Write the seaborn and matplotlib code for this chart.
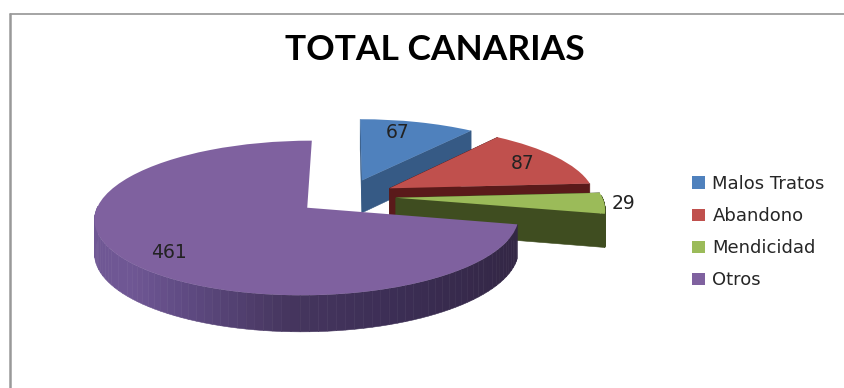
import numpy as np
import matplotlib
matplotlib.use("Agg")
import matplotlib.pyplot as plt
from matplotlib.transforms import Transform
from matplotlib.lines import Line2D
from matplotlib.patches import Patch
from matplotlib.colors import to_rgb
import seaborn as sns

categories = ["Malos Tratos", "Abandono", "Mendicidad", "Otros"]
values = [67, 87, 29, 461]
title = "TOTAL CANARIAS"

top_colors = ["#4f81bd", "#c0504d", "#9bbb59", "#7f619f"]
edge_walls = ["#365a85", "#5a1a1a", "#3f4d20", None]
arc_walls = ["#365a85", "#5a1a1a", "#3f4d20", "#3a2c50"]
label_radii = [0.78, 0.79, 1.09, 0.81]
label_fracs = [0.4, 0.5, 0.5, 0.485]

W, H = 845, 388
CX, CY, RX, RY, K, DEPTH, EXPL = 346.5, 196.5, 206, 73, 0.13, 33, 0.24

sns.set_theme(style="white")
plt.rcParams["font.family"] = ["DejaVu Sans"]


class Perspective(Transform):
    input_dims = output_dims = 2
    is_separable = False
    has_inverse = False

    def transform_non_affine(self, xy):
        xy = np.asarray(xy, float)
        s = 1.0 / (1.0 + K * xy[:, 1])
        return np.column_stack([xy[:, 0] * s, xy[:, 1] * s])


persp = Perspective()
palette = sns.color_palette(top_colors)

fig = plt.figure(figsize=(W / 100, H / 100), dpi=100)
ax = fig.add_axes([0, 0, 1, 1])
wedges, _ = ax.pie(values, colors=palette, startangle=90, counterclock=False,
                   explode=[EXPL] * len(values), radius=1.0,
                   wedgeprops={"linewidth": 0, "edgecolor": "none"})
ax.set_aspect("auto")
ax.set_xlim(-CX / RX, (W - CX) / RX)
ax.set_ylim((CY - H) / RY, CY / RY)
base = persp + ax.transData


def drop(v):
    return DEPTH * (1 - 0.08 * v) / RY


def purple_shade(x_norm):
    stops = np.array([0.0, 0.12, 0.35, 0.6, 1.0])
    cols = np.array([to_rgb(c) for c in ["#6f5794", "#5f4a82", "#46365f", "#3c2e55", "#30243f"]])
    return [float(np.interp(x_norm, stops, cols[:, i])) for i in range(3)]


def wall(a, b, col, z):
    ax.fill([a[0], b[0], b[0], a[0]],
            [a[1], b[1], b[1] - drop(b[1]), a[1] - drop(a[1])],
            color=col, lw=0.4, zorder=z)


for i, w in enumerate(wedges):
    z = 2 * i + 1
    c = np.array(w.center)
    angs = np.radians(np.linspace(w.theta1, w.theta2, 120))
    arc = c + w.r * np.column_stack([np.cos(angs), np.sin(angs)])
    arc = persp.transform_non_affine(arc)
    apex = persp.transform_non_affine(c[None, :])[0]
    if edge_walls[i] is not None:
        wall(apex, arc[0], edge_walls[i], z)
        wall(apex, arc[-1], edge_walls[i], z)
    for j in range(len(arc) - 1):
        if np.sin(angs[j]) > 0.03:  # the back of the rim is hidden
            continue
        col = arc_walls[i]
        if i == 3:
            col = purple_shade((arc[j][0] + 1.05) / 2.1)
        wall(arc[j], arc[j + 1], col, z)
    w.set_transform(base)
    w.set_zorder(z + 1)
    # theta runs counter-clockwise; the pie is clockwise, so the sweep starts at theta2
    ang = np.radians(w.theta2 + label_fracs[i] * (w.theta1 - w.theta2))
    p = c + label_radii[i] * np.array([np.cos(ang), np.sin(ang)])
    ax.text(p[0], p[1], str(values[i]), transform=base, ha="center", va="center",
            fontsize=13.5, color="#222222", zorder=30)

fig.text(434.5 / W, 1 - 49.5 / H, title, ha="center", va="center", fontsize=25.5,
         fontweight="bold", family="Lato", color="black")

handles = [Patch(facecolor=palette[i], label=categories[i], lw=0) for i in range(len(categories))]
ax.legend(handles=handles, loc="upper left", bbox_to_anchor=(692.5 / W, 1 - 175 / H),
          frameon=False, fontsize=13, labelspacing=0.78, handlelength=0.68,
          handleheight=0.68, handletextpad=0.42, borderpad=0, borderaxespad=0,
          labelcolor="#262626")

fig.add_artist(Line2D([10 / W, 1], [1 - 13.5 / H] * 2, color="#8c8c8c", lw=1.1))
fig.add_artist(Line2D([10 / W] * 2, [0, 1 - 13.5 / H], color="#999999", lw=1.8))
fig.savefig("out.png", dpi=100)
